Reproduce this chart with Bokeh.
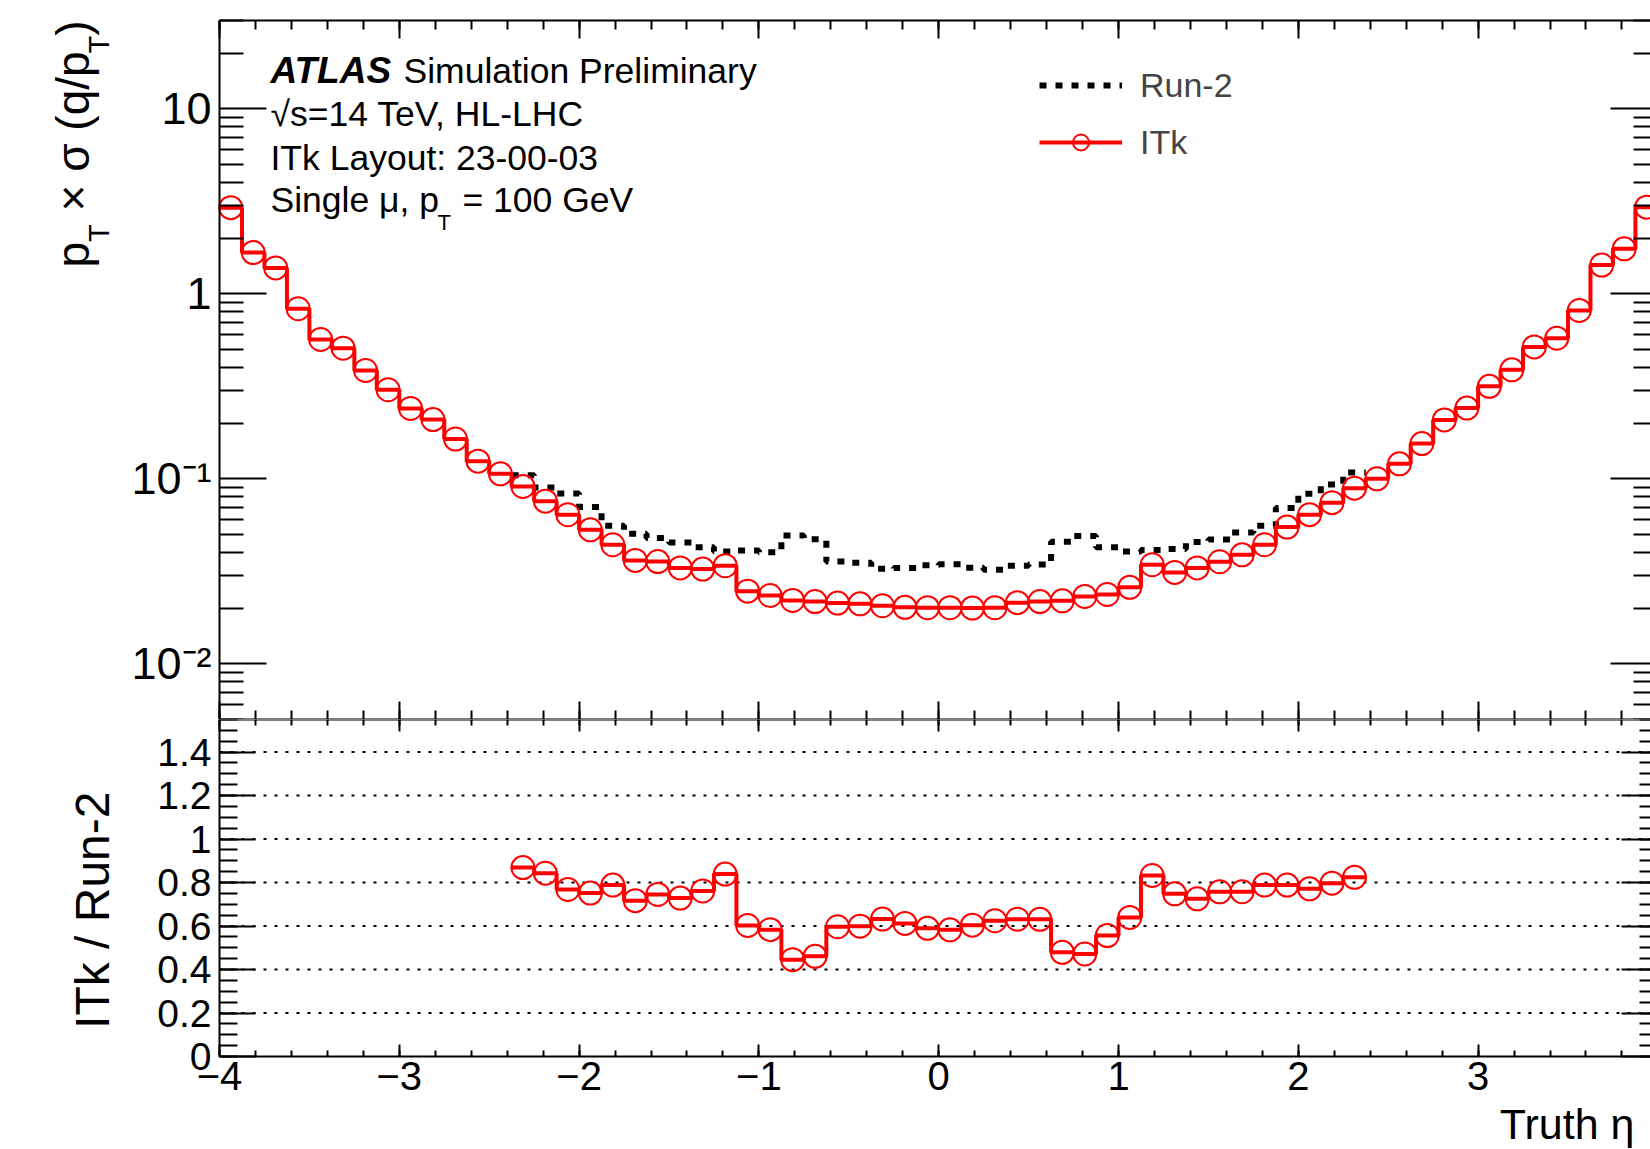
import numpy as np
from bokeh.plotting import figure
from bokeh.models import (Range1d, FixedTicker, LinearAxis, LogAxis, Label, Legend, LegendItem,
                          CustomJSTickFormatter)
from bokeh.layouts import column
from bokeh.embed import file_html
from bokeh.resources import INLINE

# ---------------- data ----------------
eta_edges = np.linspace(-4.0, 4.0, 65)          # 64 bins of width 0.125

itk = [2.92, 1.67, 1.38, 0.830, 0.566, 0.508, 0.385, 0.303, 0.240, 0.209, 0.164, 0.1245,
       0.1064, 0.0909, 0.0757, 0.0639, 0.0530, 0.0440, 0.0362, 0.0357, 0.0330, 0.0325,
       0.0339, 0.0247, 0.0234, 0.0220, 0.0217, 0.0213, 0.0211, 0.0206, 0.0202, 0.0201,
       0.0201, 0.0200, 0.0201, 0.0214, 0.0217, 0.0219, 0.0231, 0.0237, 0.0259, 0.0343,
       0.0312, 0.0330, 0.0356, 0.0388, 0.0440, 0.0548, 0.0640, 0.0743, 0.0890, 0.1000,
       0.1205, 0.155, 0.208, 0.241, 0.316, 0.388, 0.516, 0.575, 0.812, 1.43, 1.75, 2.94]

run2_first_edge = -2.375
run2 = [0.1046, 0.0898, 0.0832, 0.0705, 0.0558, 0.0505, 0.0479, 0.0453, 0.0427, 0.0404,
        0.0410, 0.0401, 0.0494, 0.0471, 0.0357, 0.0352, 0.0326, 0.0330, 0.0341, 0.0345,
        0.0331, 0.0322, 0.0339, 0.0344, 0.0457, 0.0490, 0.0426, 0.0405, 0.0412, 0.0417,
        0.0455, 0.0470, 0.0512, 0.0558, 0.0695, 0.0830, 0.0932, 0.1080]

x_major = [-4, -3, -2, -1, 0, 1, 2, 3, 4]
x_labels = {-4: "\u22124", -3: "\u22123", -2: "\u22122", -1: "\u22121", 0: "0", 1: "1", 2: "2", 3: "3", 4: "4"}
up_major = [0.01, 0.1, 1, 10]
up_labels = {0.01: "10\u207b\u00b2", 0.1: "10\u207b\u00b9", 1: "1", 10: "10"}
up_lim = (0.005, 30.0)
lo_major = [0, 0.2, 0.4, 0.6, 0.8, 1, 1.2, 1.4]
lo_labels = {0: "0", 0.2: "0.2", 0.4: "0.4", 0.6: "0.6", 0.8: "0.8", 1: "1", 1.2: "1.2", 1.4: "1.4"}
lo_lim = (0.0, 1.55)
lo_grid = [0.2, 0.4, 0.6, 0.8, 1, 1.2, 1.4]

# ---------------- derived arrays ----------------
centers = 0.5 * (eta_edges[:-1] + eta_edges[1:])
itk_a = np.array(itk)
run2_a = np.array(run2)
i0 = int(np.argmin(np.abs(eta_edges - run2_first_edge)))
i1 = i0 + len(run2_a)
ratio = itk_a[i0:i1] / run2_a

itk_sx, itk_sy = eta_edges, np.append(itk_a, itk_a[-1])
run2_sx, run2_sy = eta_edges[i0:i1 + 1], np.append(run2_a, run2_a[-1])
rat_sx, rat_sy = eta_edges[i0:i1 + 1], np.append(ratio, ratio[-1])
rat_cx = centers[i0:i1]

# ---------------- page geometry ----------------
FONT = "Liberation Sans"
RED = "#ff0000"
W = 1650
X_LEFT = 219.0        # page x of eta = -4
PX_PER_ETA = 179.8
UP_TOP, UP_H = 20, 719     # upper frame top (page y), upper canvas height
UP_FRAME = UP_H - UP_TOP   # 699 px from 30 down to 0.005
LO_H = 429
LO_FRAME = 337             # px from 1.55 down to 0

x_rng = Range1d(-4 - X_LEFT / PX_PER_ETA, -4 + (W - X_LEFT) / PX_PER_ETA)
dec = UP_FRAME / np.log10(up_lim[1] / up_lim[0])
up_rng = Range1d(up_lim[0], up_lim[1] * 10 ** (UP_TOP / dec))
lo_rng = Range1d(lo_lim[1] - LO_H * (lo_lim[1] - lo_lim[0]) / LO_FRAME, lo_lim[1])

x_minor = [round(-4 + 0.2 * k, 6) for k in range(41)]
up_minor = [m * 10.0 ** e for e in range(-3, 2) for m in range(2, 10)
            if up_lim[0] <= m * 10.0 ** e <= up_lim[1]]
lo_minor = [round(0.05 * k, 6) for k in range(32)]
x_bounds = (x_major[0], x_major[-1])


def style(ax, mj, mn, bounds, labels=None, size=None, standoff=0):
    ax.bounds = bounds
    ax.major_tick_in = mj
    ax.major_tick_out = 0
    ax.minor_tick_in = mn
    ax.minor_tick_out = 0
    ax.axis_line_width = 2
    ax.major_tick_line_width = 2
    ax.minor_tick_line_width = 2
    ax.axis_line_color = "black"
    ax.major_tick_line_color = "black"
    ax.minor_tick_line_color = "black"
    if labels is None:
        ax.formatter = CustomJSTickFormatter(code="return ''")
        ax.major_label_text_font_size = "10px"
        ax.major_label_standoff = 0
    else:
        ax.major_label_overrides = labels
        ax.major_label_text_font = FONT
        ax.major_label_text_font_size = size
        ax.major_label_text_color = "black"
        ax.major_label_standoff = standoff


def lab(fig, x, y, text, size, style_="normal", angle=0.0, align="left"):
    fig.add_layout(Label(x=x, y=y, x_units="screen", y_units="screen", text=text,
                         text_font=FONT, text_font_size=f"{size}px", text_font_style=style_,
                         angle=angle, text_align=align, text_baseline="alphabetic",
                         text_color="black"))


def base_fig(h, yr, ytype):
    f = figure(width=W, height=h, x_range=x_rng, y_range=yr, y_axis_type=ytype,
               output_backend="svg", toolbar_location=None,
               min_border_left=0, min_border_right=0, min_border_top=0, min_border_bottom=0)
    f.outline_line_color = None
    f.grid.visible = False
    f.background_fill_color = "white"
    f.border_fill_color = "white"
    return f


# ---------------- upper panel ----------------
up = base_fig(UP_H, up_rng, "log")
up.xaxis.ticker = FixedTicker(ticks=x_major, minor_ticks=x_minor)
up.xaxis.fixed_location = up_lim[0]
style(up.xaxis[0], 18, 9, x_bounds)
up.yaxis.ticker = FixedTicker(ticks=up_major, minor_ticks=up_minor)
up.yaxis.fixed_location = x_major[0]
style(up.yaxis[0], 47, 24, up_lim, up_labels, "45px", 8)

top_ax = LinearAxis(ticker=FixedTicker(ticks=x_major, minor_ticks=x_minor), fixed_location=up_lim[1])
style(top_ax, 18, 9, x_bounds)
up.add_layout(top_ax, "above")
right_ax = LogAxis(ticker=FixedTicker(ticks=up_major, minor_ticks=up_minor), fixed_location=x_major[-1])
style(right_ax, 47, 24, up_lim)
up.add_layout(right_ax, "right")

r_run2 = up.step(run2_sx, run2_sy, mode="after", line_color="black", line_width=6, line_dash="7 9")
r_itk_l = up.step(itk_sx, itk_sy, mode="after", line_color=RED, line_width=4)
r_itk_p = up.scatter(centers, itk_a, marker="circle", size=23, fill_color=None,
                     line_color=RED, line_width=2)

legend = Legend(items=[LegendItem(label="Run-2", renderers=[r_run2]),
                       LegendItem(label="ITk", renderers=[r_itk_l, r_itk_p])],
                location=(1039, 557), glyph_width=83, glyph_height=40, label_height=40,
                spacing=17, padding=0, margin=0, label_standoff=18,
                label_text_font=FONT, label_text_font_size="34px",
                border_line_color=None, background_fill_alpha=0)
up.add_layout(legend)

# ATLAS text block (screen coords: x = page x, y = px above the upper frame bottom)
lab(up, 270, 649, "ATLAS", 37, "bold italic")
lab(up, 403, 649, "Simulation Preliminary", 35.5)
lab(up, 270, 606, "\u221as=14 TeV, HL-LHC", 35.5)
lab(up, 270, 562, "ITk Layout: 23-00-03", 35.5)
lab(up, 270, 520, "Single \u03bc, p", 35.5)
lab(up, 437, 497, "T", 22)
lab(up, 462, 520, "= 100 GeV", 35.5)

# rotated y title  p_T x sigma (q/p_T), reading upwards, ending at the frame top
yb, ys = 72, 98
seg = [("p", 46, yb, 25.6), ("T", 29, ys, 17.7 + 12.8), ("\u00d7 \u03c3 (q/p", 46, yb, 158.0),
       ("T", 29, ys, 17.7), (")", 46, yb, 15.3)]
pos = UP_FRAME - sum(s[3] for s in seg)
for txt, sz, bx, adv in seg:
    lab(up, bx, pos, txt, sz, angle=np.pi / 2)
    pos += adv

# ---------------- lower panel ----------------
lo = base_fig(LO_H, lo_rng, "linear")
lo.xaxis.ticker = FixedTicker(ticks=x_major, minor_ticks=x_minor)
lo.xaxis.fixed_location = lo_lim[0]
style(lo.xaxis[0], 12, 6, x_bounds, x_labels, "40px", 5)
lo.yaxis.ticker = FixedTicker(ticks=lo_major, minor_ticks=lo_minor)
lo.yaxis.fixed_location = x_major[0]
style(lo.yaxis[0], 36, 18, lo_lim, lo_labels, "39px", 8)

top2 = LinearAxis(ticker=FixedTicker(ticks=x_major, minor_ticks=x_minor), fixed_location=lo_lim[1])
style(top2, 12, 6, x_bounds)
lo.add_layout(top2, "above")
right2 = LinearAxis(ticker=FixedTicker(ticks=lo_major, minor_ticks=lo_minor), fixed_location=x_major[-1])
style(right2, 36, 18, lo_lim)
lo.add_layout(right2, "right")

# dotted reference lines across the frame
lo.segment(x0=[x_bounds[0]] * len(lo_grid), x1=[x_bounds[1]] * len(lo_grid), y0=lo_grid, y1=lo_grid,
           line_color="black", line_width=2, line_dash="3 8")

lo.step(rat_sx, rat_sy, mode="after", line_color=RED, line_width=4)
lo.scatter(rat_cx, ratio, marker="circle", size=23, fill_color=None, line_color=RED, line_width=2)

# lower y title and x title (y = px above the lower canvas bottom at page 1148)
lab(lo, 92, 1148 - 791, "ITk / Run-2", 48, angle=np.pi / 2, align="right")
lab(lo, 1634, 25, "Truth \u03b7", 43, align="right")

layout = column(up, lo)
open("out.html", "w").write(file_html(layout, INLINE))
